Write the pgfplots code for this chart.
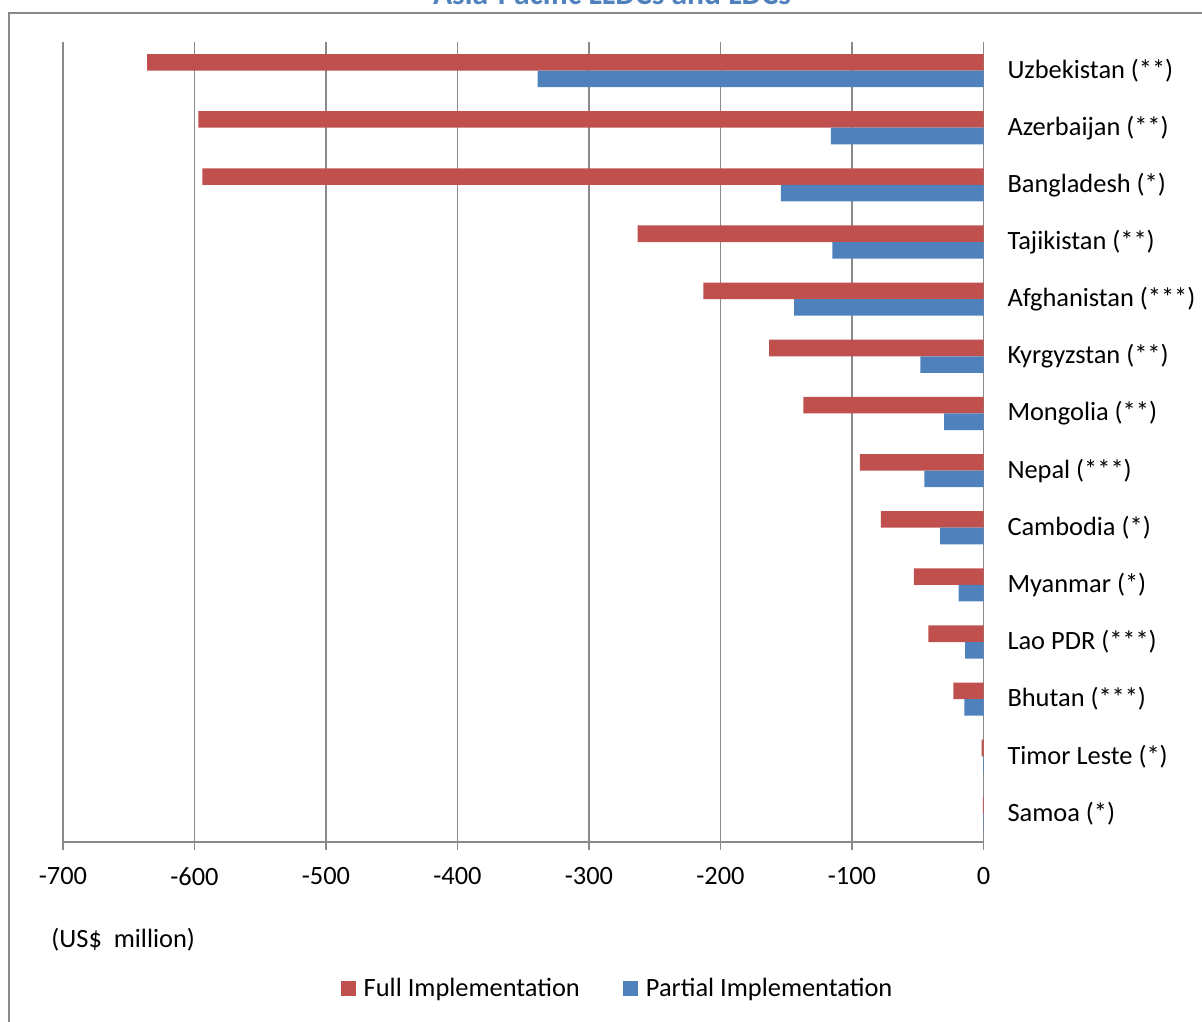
\documentclass[border=0pt]{standalone}
\usepackage{pgfplots}
\pgfplotsset{compat=1.18}
\usepackage{fontspec}
\setmainfont{Carlito}

\definecolor{fullred}{HTML}{C0504D}
\definecolor{partblue}{HTML}{4F81BD}
\definecolor{titleblue}{HTML}{4F81BD}
\definecolor{framegray}{HTML}{898989}
\definecolor{gridgray}{HTML}{8A8A8A}

\newcommand{\lblfont}{\fontsize{13.2}{15.8}\selectfont}

\begin{document}
\begin{tikzpicture}
  % page area
  \path[use as bounding box] (0pt,0pt) rectangle (601pt,-510.5pt);
  \clip (0pt,0pt) rectangle (601pt,-510.5pt);
  % chart frame
  \draw[framegray, line width=0.8pt] (4.5pt,-6.4pt) rectangle (700pt,-700pt);
  % chart title
  \node[anchor=base, font=\fontsize{15.8}{19}\selectfont\bfseries, text=titleblue,
        inner sep=0pt] at (306pt,-2.5pt) {Asia-Pacific LLDCs and LDCs};

  \begin{axis}[
    at={(31.5pt,-421pt)}, anchor=south west,
    scale only axis,
    width=460.25pt, height=400pt,
    xbar,
    xmin=-700, xmax=0,
    ymin=-0.5, ymax=13.5,
    y dir=reverse,
    axis x line*=bottom,
    axis y line*=right,
    axis line style={gridgray, line width=0.8pt},
    xtick={-700,-600,...,0},
    xmajorgrids,
    grid style={gridgray, line width=0.8pt},
    xtick align=outside,
    ytick align=inside,
    major tick length=4pt,
    ytick={0,...,13},
    yticklabels={Uzbekistan (**),Azerbaijan (**),Bangladesh (*),Tajikistan (**),
      Afghanistan (***),Kyrgyzstan (**),Mongolia (**),Nepal (***),Cambodia (*),
      Myanmar (*),Lao PDR (***),Bhutan (***),Timor Leste (*),Samoa (*)},
    y tick style={draw=none},
    minor ytick={-0.5,0.5,...,13.5},
    minor tick length=4.5pt,
    minor y tick style={gridgray, line width=0.8pt},
    x tick style={gridgray, line width=0.8pt},
    tick label style={font=\lblfont},
    /pgf/number format/assume math mode=true,
    xticklabel style={inner sep=0pt, anchor=north, yshift=-8.4pt},
    yticklabel style={anchor=west, inner sep=0pt, xshift=11.8pt},
    legend style={at={(0.6035,-0.1835)}, anchor=center, draw=none, fill=none,
      legend columns=2, font=\lblfont,
      /tikz/every odd column/.append style={column sep=2pt},
      /tikz/every even column/.append style={column sep=19.5pt}},
    legend cell align=left,
    legend image code/.code={\fill[#1] (0pt,-3.75pt) rectangle (7.5pt,3.75pt);},
    clip=false,
  ]
    % full implementation (upper bar of each pair)
    \addplot[fill=fullred, draw=none, bar width=0.29, bar shift=-0.145]
      coordinates {(-636,0) (-597,1) (-594,2) (-263,3) (-213,4) (-163,5) (-137,6)
                   (-94,7) (-78,8) (-53,9) (-42,10) (-23,11) (-1.5,12) (-0.5,13)};
    \addlegendentry{Full Implementation}
    % partial implementation (lower bar of each pair)
    \addplot[fill=partblue, draw=none, bar width=0.29, bar shift=0.145]
      coordinates {(-339,0) (-116,1) (-154,2) (-115,3) (-144,4) (-48,5) (-30,6)
                   (-45,7) (-33,8) (-19,9) (-14,10) (-14.5,11) (-0.3,12) (-0.1,13)};
    \addlegendentry{Partial Implementation}
    \node[anchor=west, font=\lblfont, inner sep=0pt] at (axis description cs:-0.0130,-0.1225)
      {(US\$\ \ million)};
  \end{axis}
\end{tikzpicture}
\end{document}
